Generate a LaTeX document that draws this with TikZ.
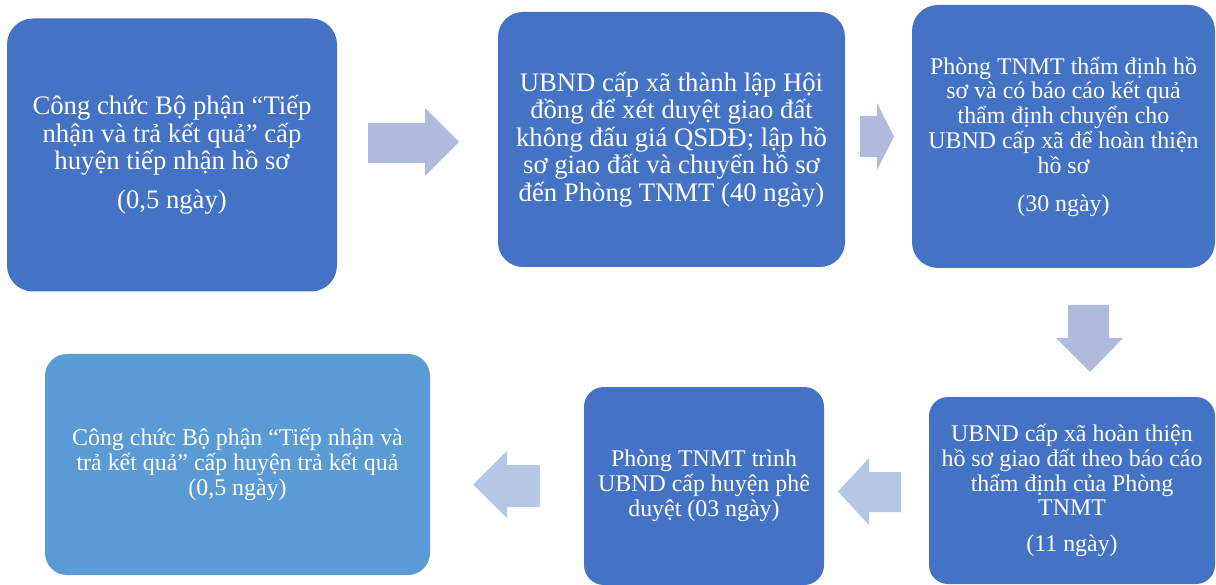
\documentclass[tikz,border=0pt]{standalone}
\usepackage{fontspec}
\setmainfont{Liberation Serif}
\definecolor{boxblue}{HTML}{4472C4}
\definecolor{boxlight}{HTML}{5B9BD5}
\definecolor{arrA}{HTML}{AFBADC}
\definecolor{arrB}{HTML}{B4C8E6}
\begin{document}
\begin{tikzpicture}[x=1pt,y=-1pt,
  box/.style={fill=boxblue, draw=none, text=white, align=center, inner sep=0pt},
  bigtext/.style={font=\fontsize{26.7}{27.5}\selectfont},
  smalltext/.style={font=\fontsize{23.9}{24.8}\selectfont},
  arrowfill/.style={fill=#1, draw=none}]
\useasboundingbox (0,0) rectangle (1216,585);

\node[box, bigtext, minimum width=330pt, minimum height=273pt, rounded corners=26pt] (b1) at (172,155)
  {Công chức Bộ phận “Tiếp\\ nhận và trả kết quả” cấp\\ huyện tiếp nhận hồ sơ\\[11.5pt] (0,5 ngày)};

\node[box, bigtext, minimum width=347pt, minimum height=255pt, rounded corners=25pt] (b2) at (671.5,139.5)
  {UBND cấp xã thành lập Hội\\ đồng để xét duyệt giao đất\\ không đấu giá QSDĐ; lập hồ\\ sơ giao đất và chuyển hồ sơ\\ đến Phòng TNMT (40 ngày)};

\node[box, smalltext, minimum width=303pt, minimum height=263pt, rounded corners=26pt] (b3) at (1063.5,136.5)
  {Phòng TNMT thẩm định hồ\\ sơ và có báo cáo kết quả\\ thẩm định chuyển cho\\ UBND cấp xã để hoàn thiện\\ hồ sơ\\[13pt] (30 ngày)};

\node[box, smalltext, minimum width=286pt, minimum height=187pt, rounded corners=19pt] (b4) at (1072,490.5)
  {UBND cấp xã hoàn thiện\\ hồ sơ giao đất theo báo cáo\\ thẩm định của Phòng\\ TNMT\\[11pt] (11 ngày)};

\node[box, smalltext, minimum width=240pt, minimum height=198pt, rounded corners=20pt] (b5) at (704,486)
  {Phòng TNMT trình\\ UBND cấp huyện phê\\ duyệt (03 ngày)};

\node[box, smalltext, fill=boxlight, minimum width=385pt, minimum height=221pt, rounded corners=22pt] (b6) at (237.5,464.5)
  {Công chức Bộ phận “Tiếp nhận và\\ trả kết quả” cấp huyện trả kết quả\\ (0,5 ngày)};

% block arrows
\fill[arrowfill=arrA] (368,123) -- (425,123) -- (425,108) -- (459,142) -- (425,176) -- (425,163) -- (368,163) -- cycle;
\fill[arrowfill=arrA] (860,116) -- (877,116) -- (877,103) -- (894,136.5) -- (877,170) -- (877,157) -- (860,157) -- cycle;
\fill[arrowfill=arrA] (1068,305) -- (1109,305) -- (1109,338) -- (1123,338) -- (1090,372) -- (1056,338) -- (1068,338) -- cycle;
\fill[arrowfill=arrB] (901,472) -- (869,472) -- (869,458) -- (838,491.5) -- (869,525) -- (869,512) -- (901,512) -- cycle;
\fill[arrowfill=arrB] (540,465) -- (507,465) -- (507,451) -- (473,484.5) -- (507,518) -- (507,507) -- (540,507) -- cycle;
\end{tikzpicture}
\end{document}
